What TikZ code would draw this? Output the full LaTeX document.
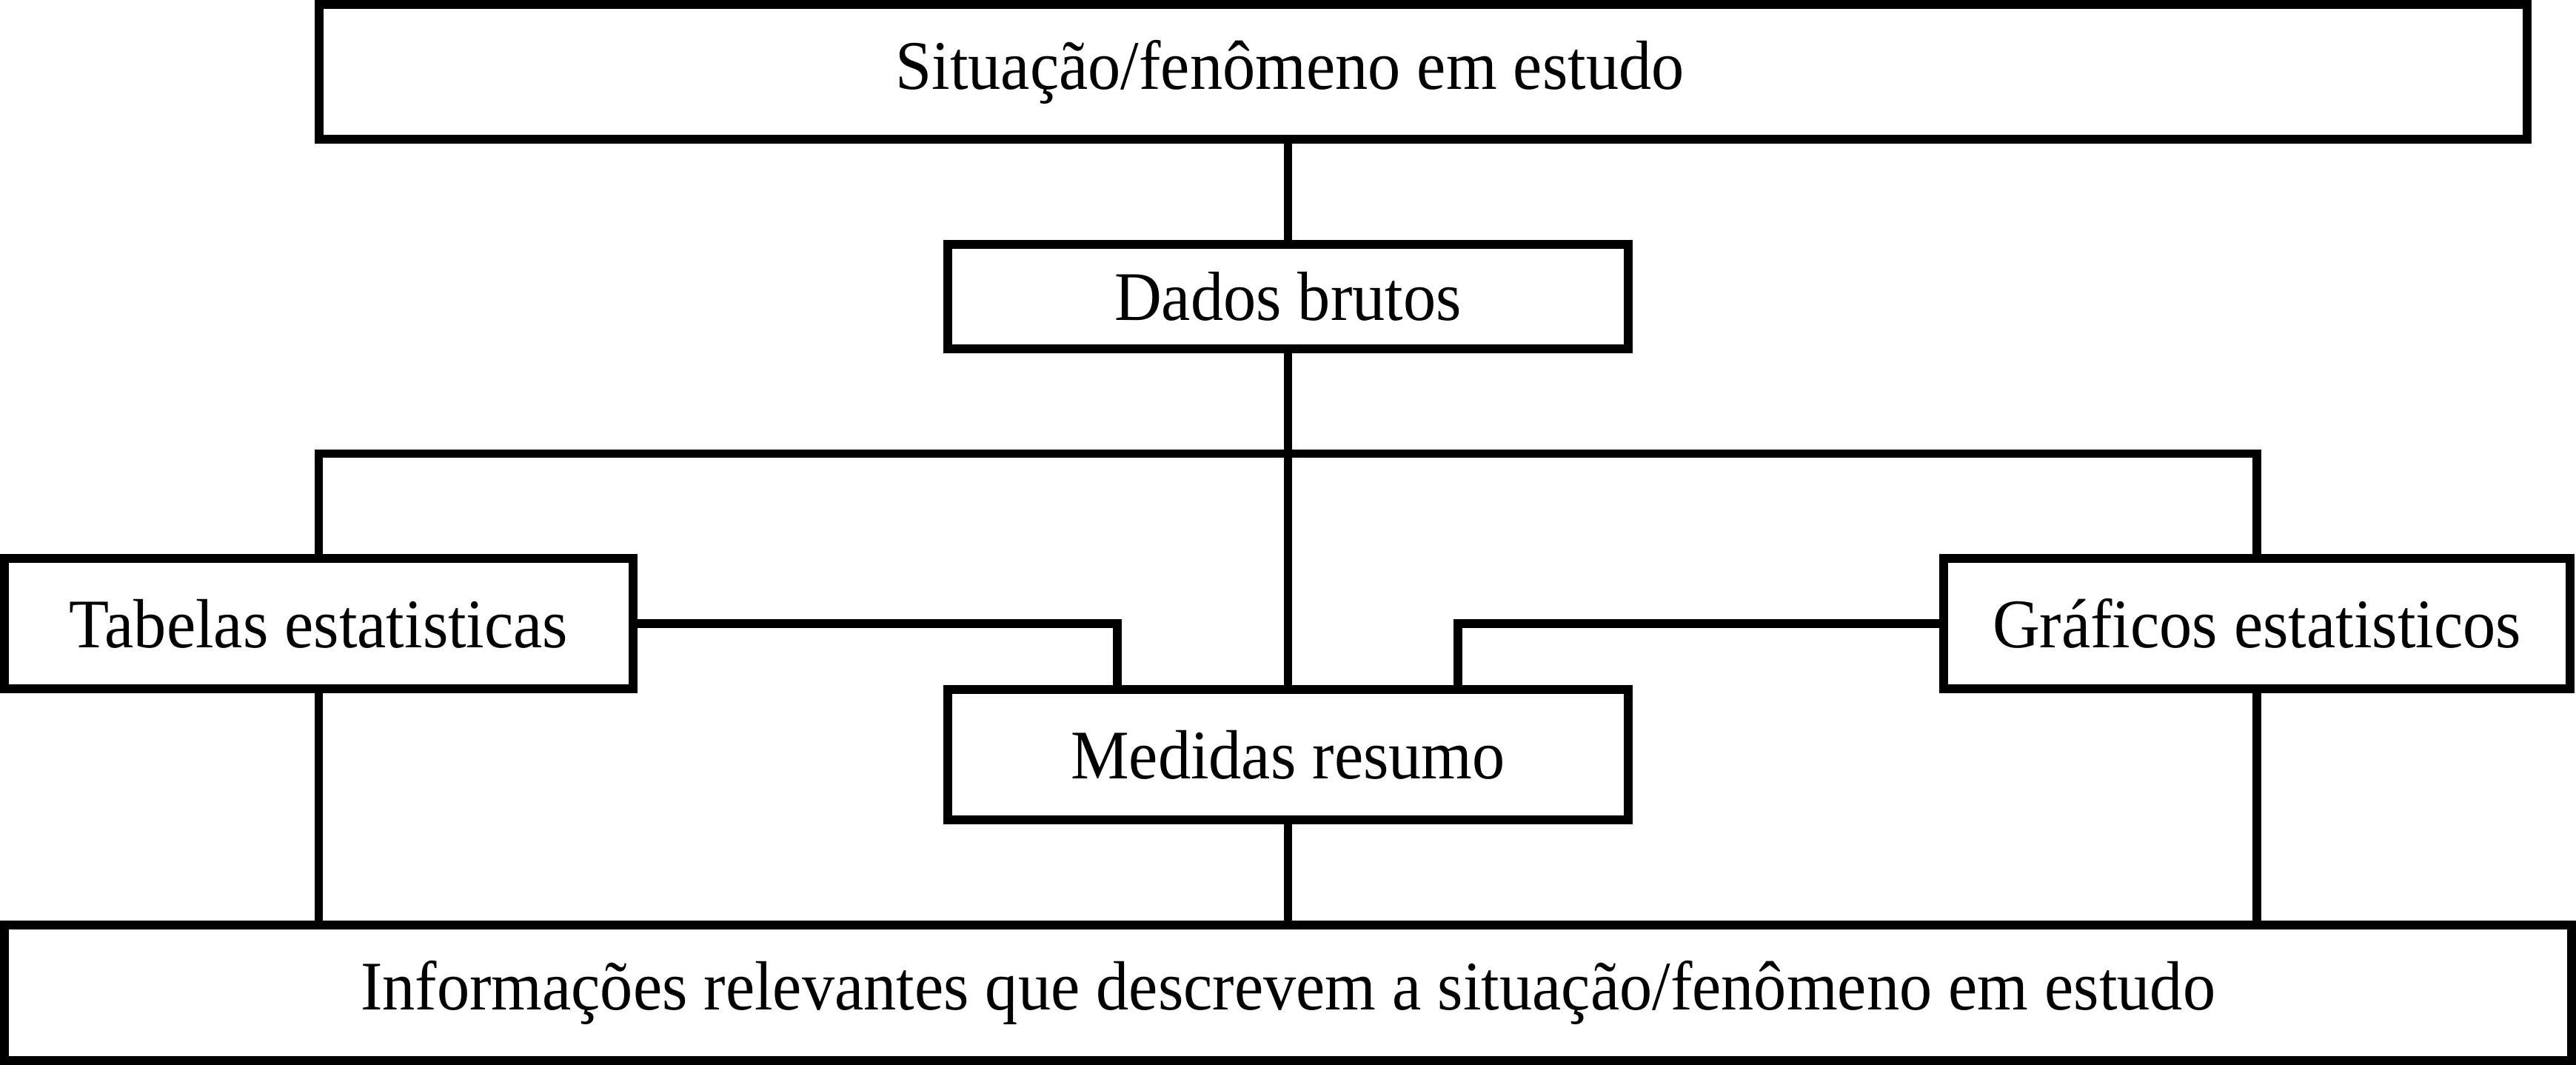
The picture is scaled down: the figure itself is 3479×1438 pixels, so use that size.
\documentclass[tikz,border=0pt]{standalone}
\usepackage{fontspec}
\setmainfont{Liberation Serif}[FakeStretch=0.94]
\begin{document}
\begin{tikzpicture}[x=0.2pt,y=-0.2pt,line width=2.3pt,
  box/.style={draw, rectangle, inner sep=0pt, outer sep=0pt, line width=2.3pt,
    font=\fontsize{18.8pt}{22pt}\selectfont},
  conn/.style={draw, line width=2.3pt, miter limit=10}]
\useasboundingbox (0,0) rectangle (3479,1438);
\fill[white] (0,0) rectangle (3479,1438);
\node[box, minimum width=596.4pt, minimum height=36.4pt] (top) at (1922,97) {Situação/fenômeno em estudo\hspace*{72pt}};
\node[box, minimum width=183.8pt, minimum height=28.2pt] (dados) at (1739.5,400.5) {Dados brutos};
\node[box, minimum width=169.8pt, minimum height=35.2pt] (tabelas) at (430.5,842) {Tabelas estatisticas};
\node[box, minimum width=169.2pt, minimum height=35.2pt] (graficos) at (3048,842) {Gráficos estatisticos};
\node[box, minimum width=183.8pt, minimum height=35.2pt] (medidas) at (1739.5,1019) {Medidas resumo};
\node[box, minimum width=693.4pt, minimum height=36.6pt] (bottom) at (1739.5,1340.5) {Informações relevantes que descrevem a situação/fenômeno em estudo};
\coordinate (hc) at (1739.5,612.5);
\coordinate (tj) at (1509,842);
\coordinate (gj) at (1969,842);
\draw[conn] (top.south -| dados.north) -- (dados.north);
\draw[conn] (dados.south) -- (hc) -- (medidas.north);
\draw[conn] (tabelas.north) -- (tabelas.north |- hc) -- (graficos.north |- hc) -- (graficos.north);
\draw[conn] (tabelas.east) -- (tj) -- (tj |- medidas.north);
\draw[conn] (graficos.west) -- (gj) -- (gj |- medidas.north);
\draw[conn] (tabelas.south) -- (tabelas.south |- bottom.north);
\draw[conn] (medidas.south) -- (bottom.north);
\draw[conn] (graficos.south) -- (graficos.south |- bottom.north);
\end{tikzpicture}
\end{document}
